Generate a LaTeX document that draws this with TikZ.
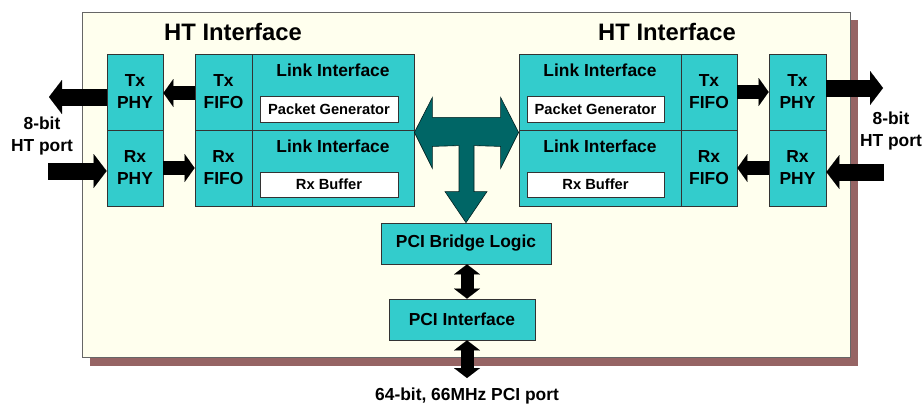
\documentclass[tikz,border=0pt]{standalone}
\usepackage{fontspec}
\setmainfont{Liberation Sans}
\usetikzlibrary{arrows.meta,calc}
\definecolor{cy}{HTML}{33CCCC}
\definecolor{panelc}{HTML}{FFFFEE}
\definecolor{shadowc}{HTML}{966464}
\definecolor{tealT}{HTML}{006666}
\begin{document}
\begin{tikzpicture}[x=1pt,y=-1pt,
  cbox/.style={draw=black!80, fill=cy, line width=0.8pt, inner sep=0pt, align=center,
    font=\fontsize{17.4}{22}\selectfont\bfseries},
  wbox/.style={draw=black!80, fill=white, line width=0.8pt, inner sep=0pt, align=center,
    font=\fontsize{14.7}{17}\selectfont\bfseries},
  lbl/.style={inner sep=0pt, align=center, font=\fontsize{17.4}{22}\selectfont\bfseries},
  ttl/.style={inner sep=0pt, font=\fontsize{23.8}{27}\selectfont\bfseries},
  fatA/.style={line width=17pt, -{Triangle[length=13pt,width=34pt,line width=0.01pt]}},
  fatB/.style={line width=14pt, -{Triangle[length=10pt,width=28pt,line width=0.01pt]}},
  dblA/.style={line width=13pt, {Triangle[length=10pt,width=26pt,line width=0.01pt]}-{Triangle[length=10pt,width=26pt,line width=0.01pt]}}
]
\useasboundingbox (0,0) rectangle (923,405);
% panel and shadow
\fill[shadowc] (90,20) rectangle (858,366);
\draw[fill=panelc, draw=black!60, line width=1pt] (82,12) rectangle (850,357);

% titles
\node[ttl] (titleL) at (233,32) {HT Interface};
\node[ttl] (titleR) at (667,32) {HT Interface};

% left side
\node[cbox, minimum width=56pt, minimum height=76pt] (txphyL) at (135,92) {Tx\\PHY};
\node[cbox, minimum width=56pt, minimum height=76pt] (rxphyL) at (135,168) {Rx\\PHY};
\node[cbox, minimum width=57pt, minimum height=76pt] (txfifoL) at (223.5,92) {Tx\\FIFO};
\node[cbox, minimum width=57pt, minimum height=76pt] (rxfifoL) at (223.5,168) {Rx\\FIFO};
\node[cbox, minimum width=162pt, minimum height=76pt] (linkTL) at (333,92) {};
\node[cbox, minimum width=162pt, minimum height=76pt] (linkRL) at (333,168) {};
\node[lbl] (linkTLt) at ([yshift=-17pt]linkTL.north) {Link Interface};
\node[lbl] (linkRLt) at ([yshift=-17pt]linkRL.north) {Link Interface};
\node[wbox, minimum width=138pt, minimum height=26pt] (pgL) at (329,109) {Packet Generator};
\node[wbox, minimum width=138pt, minimum height=25pt] (rbL) at (329,184.5) {Rx Buffer};

% right side
\node[cbox, minimum width=162pt, minimum height=76pt] (linkTR) at (600,92) {};
\node[cbox, minimum width=162pt, minimum height=76pt] (linkRR) at (600,168) {};
\node[lbl] (linkTRt) at ([yshift=-17pt]linkTR.north) {Link Interface};
\node[lbl] (linkRRt) at ([yshift=-17pt]linkRR.north) {Link Interface};
\node[wbox, minimum width=137pt, minimum height=26pt] (pgR) at (595.5,109) {Packet Generator};
\node[wbox, minimum width=137pt, minimum height=25pt] (rbR) at (595.5,184.5) {Rx Buffer};
\node[cbox, minimum width=56pt, minimum height=76pt] (txfifoR) at (709,92) {Tx\\FIFO};
\node[cbox, minimum width=56pt, minimum height=76pt] (rxfifoR) at (709,168) {Rx\\FIFO};
\node[cbox, minimum width=57pt, minimum height=76pt] (txphyR) at (797.5,92) {Tx\\PHY};
\node[cbox, minimum width=57pt, minimum height=76pt] (rxphyR) at (797.5,168) {Rx\\PHY};

% PCI
\node[cbox, minimum width=170pt, minimum height=41pt] (bridge) at (466,243.5) {PCI Bridge Logic};
\node[cbox, minimum width=146pt, minimum height=41pt] (pciif) at (462,319.5) {PCI Interface};

% port labels
\node[lbl] (portL) at (42,136) {8-bit\\HT port};
\node[lbl] (portR) at (891,131) {8-bit\\HT port};
\node[lbl] (pcilbl) at (467,396) {64-bit, 66MHz PCI port};

% outer fat arrows
\coordinate (htTxL) at (49,97);
\coordinate (htRxL) at (48,171);
\coordinate (htTxR) at (883,88);
\coordinate (htRxR) at (884,172);
\draw[fatA] ([yshift=-5pt]txphyL.west) -- (htTxL);
\draw[fatA] (htRxL) -- ([yshift=-3pt]rxphyL.west);
\draw[fatA] ([yshift=4pt]txphyR.east) -- (htTxR);
\draw[fatA] (htRxR) -- ([yshift=-4pt]rxphyR.east);

% inner arrows
\draw[fatB] ([yshift=-1pt]txfifoL.west) -- ([yshift=-1pt]txphyL.east);
\draw[fatB] (rxphyL.east) -- (rxfifoL.west);
\draw[fatB] (txfifoR.east) -- (txphyR.west);
\draw[fatB] (rxphyR.west) -- (rxfifoR.east);

% PCI double arrows
\coordinate (pciport) at (467,378);
\draw[dblA] ([xshift=1pt]bridge.south) -- ([xshift=1pt]bridge.south |- pciif.north);
\draw[dblA] (pciport |- pciif.south) -- (pciport);

% T arrow
\coordinate (tl) at (linkTL.south east);
\coordinate (tr) at (linkTR.south west);
\coordinate (tb) at (bridge.north);
\draw[fill=tealT, draw=black!70!tealT, line width=0.6pt, line join=miter]
  ($(tl)+(0,2)$) -- ($(tl)+(18,-33)$) -- ($(tl)+(18,-13)$) -- ($(tr)+(-18,-13)$)
  -- ($(tr)+(-18,-33)$) -- ($(tr)+(0,2)$) -- ($(tr)+(-18,38)$) -- ($(tr)+(-18,16)$)
  -- ($(tb)+(8,-77)$) -- ($(tb)+(8,-31)$) -- ($(tb)+(21,-31)$) -- (tb)
  -- ($(tb)+(-21,-31)$) -- ($(tb)+(-7,-31)$) -- ($(tb)+(-7,-77)$)
  -- ($(tl)+(18,16)$) -- ($(tl)+(18,38)$) -- cycle;
\end{tikzpicture}
\end{document}
